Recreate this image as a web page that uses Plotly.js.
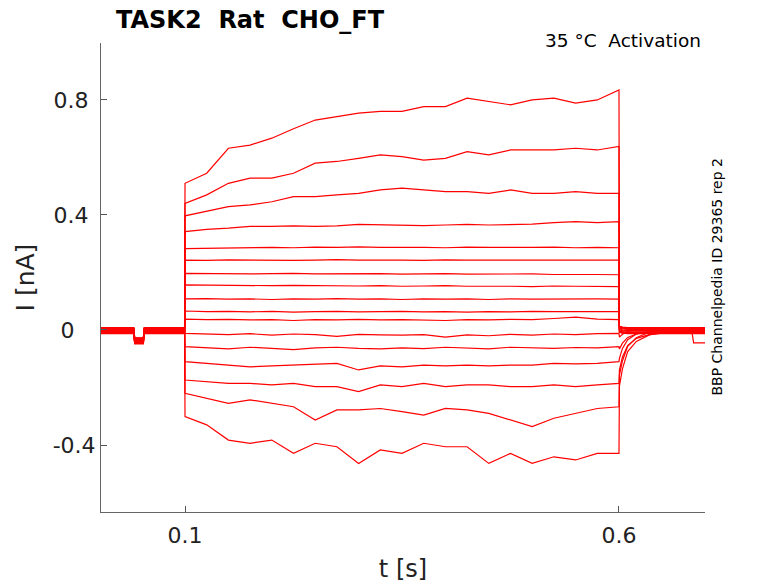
<!DOCTYPE html>
<html>
<head>
<meta charset="utf-8">
<script src="https://cdn.plot.ly/plotly-3.0.1.min.js"></script>
<style>html,body{margin:0;padding:0;background:#fff;}#chart{width:778px;height:583px;}</style>
</head>
<body>
<div id="chart"></div>
<script>
// time grids (s)
const tPre = [0.003, 0.02, 0.041, 0.042, 0.052, 0.053, 0.075, 0.0995];
const basePre = [0, 0, 0, -0.035, -0.035, 0, 0, 0];
const tStep = [0.1, 0.125, 0.15, 0.175, 0.2, 0.225, 0.25, 0.275, 0.3, 0.325, 0.35,
               0.375, 0.4, 0.425, 0.45, 0.475, 0.5, 0.525, 0.55, 0.575, 0.6];
const tPost = [0.6005, 0.604, 0.61, 0.62, 0.635, 0.65, 0.684, 0.686, 0.7];

// current during the step (nA), one array per sweep, top to bottom
const sweep01 = [0.51, 0.545, 0.632, 0.643, 0.667, 0.70, 0.73, 0.742, 0.754, 0.76, 0.76,
                 0.777, 0.777, 0.806, 0.795, 0.783, 0.80, 0.806, 0.789, 0.80, 0.835];
const sweep02 = [0.44, 0.47, 0.51, 0.528, 0.528, 0.545, 0.58, 0.586, 0.597, 0.609, 0.603,
                 0.591, 0.597, 0.62, 0.609, 0.626, 0.626, 0.626, 0.632, 0.626, 0.638];
const sweep03 = [0.397, 0.412, 0.429, 0.435, 0.446, 0.464, 0.464, 0.47, 0.475, 0.487, 0.493,
                 0.487, 0.481, 0.481, 0.475, 0.487, 0.475, 0.475, 0.481, 0.475, 0.475];
const sweep04 = [0.342, 0.35, 0.354, 0.36, 0.36, 0.362, 0.36, 0.362, 0.367, 0.365, 0.365,
                 0.363, 0.365, 0.367, 0.365, 0.367, 0.368, 0.373, 0.377, 0.373, 0.377];
const sweep05 = [0.283, 0.284, 0.286, 0.285, 0.287, 0.286, 0.288, 0.287, 0.289, 0.287, 0.288,
                 0.287, 0.286, 0.288, 0.287, 0.286, 0.287, 0.288, 0.286, 0.287, 0.286];
const sweep06 = [0.243, 0.242, 0.244, 0.243, 0.244, 0.242, 0.243, 0.245, 0.243, 0.244, 0.243,
                 0.242, 0.244, 0.243, 0.243, 0.244, 0.242, 0.243, 0.244, 0.243, 0.243];
const sweep07 = [0.197, 0.196, 0.197, 0.195, 0.196, 0.197, 0.195, 0.196, 0.195, 0.196, 0.194,
                 0.195, 0.196, 0.194, 0.195, 0.194, 0.195, 0.193, 0.194, 0.193, 0.192];
const sweep08 = [0.157, 0.156, 0.155, 0.156, 0.154, 0.155, 0.154, 0.155, 0.153, 0.154, 0.152,
                 0.153, 0.154, 0.152, 0.153, 0.152, 0.151, 0.153, 0.152, 0.151, 0.151];
const sweep09 = [0.108, 0.109, 0.107, 0.108, 0.106, 0.108, 0.107, 0.109, 0.107, 0.108, 0.106,
                 0.108, 0.107, 0.108, 0.106, 0.108, 0.107, 0.108, 0.107, 0.108, 0.107];
const sweep10 = [0.066, 0.064, 0.065, 0.063, 0.065, 0.062, 0.064, 0.065, 0.063, 0.064, 0.065,
                 0.063, 0.064, 0.062, 0.064, 0.063, 0.065, 0.064, 0.063, 0.064, 0.064];
const sweep11 = [0.038, 0.036, 0.037, 0.035, 0.036, 0.033, 0.036, 0.035, 0.037, 0.035, 0.036,
                 0.034, 0.033, 0.036, 0.035, 0.037, 0.036, 0.040, 0.045, 0.038, 0.036];
const sweep12 = [-0.012, -0.015, -0.016, -0.013, -0.018, -0.014, -0.016, -0.022, -0.015, -0.017, -0.018,
                 -0.016, -0.025, -0.017, -0.020, -0.015, -0.018, -0.014, -0.016, -0.013, -0.012];
const sweep13 = [-0.058, -0.063, -0.066, -0.060, -0.064, -0.068, -0.062, -0.060, -0.064, -0.066, -0.062,
                 -0.065, -0.060, -0.064, -0.066, -0.060, -0.063, -0.064, -0.061, -0.062, -0.058];
const sweep14 = [-0.110, -0.116, -0.122, -0.128, -0.125, -0.122, -0.118, -0.116, -0.139, -0.125, -0.128,
                 -0.122, -0.125, -0.122, -0.125, -0.122, -0.122, -0.116, -0.118, -0.116, -0.110];
const sweep15 = [-0.174, -0.180, -0.186, -0.186, -0.191, -0.186, -0.197, -0.197, -0.214, -0.191, -0.197,
                 -0.186, -0.197, -0.191, -0.191, -0.197, -0.197, -0.191, -0.197, -0.191, -0.186];
const sweep16 = [-0.220, -0.238, -0.255, -0.243, -0.255, -0.267, -0.313, -0.278, -0.278, -0.273, -0.284,
                 -0.296, -0.273, -0.278, -0.290, -0.313, -0.336, -0.307, -0.290, -0.273, -0.267];
const sweep17 = [-0.301, -0.330, -0.383, -0.394, -0.383, -0.429, -0.394, -0.406, -0.464, -0.417, -0.429,
                 -0.394, -0.406, -0.406, -0.464, -0.429, -0.464, -0.441, -0.452, -0.429, -0.429];

// tail after the step (nA)
const tailPos = [0.005, 0.002, 0, 0, 0, 0, 0, 0, 0];
const tail12 = [-0.03, -0.02, -0.01, -0.004, 0, 0, 0, 0, 0];
const tail13 = [-0.06, -0.04, -0.02, -0.008, -0.002, 0, 0, 0, 0];
const tail14 = [-0.10, -0.065, -0.035, -0.015, -0.005, 0, 0, 0, 0];
const tail15 = [-0.13, -0.085, -0.045, -0.02, -0.007, -0.002, 0, 0, 0];
const tail16 = [-0.16, -0.11, -0.06, -0.03, -0.01, -0.003, 0, 0, 0];
const tail17 = [-0.19, -0.13, -0.07, -0.035, -0.012, -0.004, 0, -0.04, -0.04];

// holding-current offset of each sweep (nA)
const baseOff = [0.008, -0.012, 0.004, -0.008, 0.006, -0.004, 0.002, -0.010, 0.007,
                 -0.002, -0.013, 0.005, -0.006, 0.001, -0.009, 0.003, -0.005];

const sweeps = [sweep01, sweep02, sweep03, sweep04, sweep05, sweep06, sweep07, sweep08, sweep09,
                sweep10, sweep11, sweep12, sweep13, sweep14, sweep15, sweep16, sweep17];
const tails = [tailPos, tailPos, tailPos, tailPos, tailPos, tailPos, tailPos, tailPos, tailPos,
               tailPos, tailPos, tail12, tail13, tail14, tail15, tail16, tail17];

const xTicks = [0.1, 0.6];
const xTickText = ['0.1', '0.6'];
const yTicks = [-0.4, 0, 0.4, 0.8];
const yTickText = ['-0.4', '0\u00A0\u00A0\u00A0', '0.4\u00A0', '0.8\u00A0'];

const traces = sweeps.map((s, k) => ({
  type: 'scatter', mode: 'lines',
  x: tPre.concat(tStep, tPost),
  y: basePre.map(v => v + baseOff[k]).concat(s, tails[k].map(v => v + baseOff[k])),
  line: {color: '#ff0000', width: 1.2},
  hoverinfo: 'skip', showlegend: false
}));

const font = 'DejaVu Sans, sans-serif';
const layout = {
  width: 778, height: 583,
  margin: {l: 101, r: 73, t: 43, b: 71},
  paper_bgcolor: '#fff', plot_bgcolor: '#fff',
  font: {family: font, color: '#222'},
  showlegend: false,
  xaxis: {
    range: [0.0032, 0.6991], tickvals: xTicks, ticktext: xTickText,
    ticks: 'inside', ticklen: 6, tickcolor: '#555', tickwidth: 1,
    showline: true, linecolor: '#666', linewidth: 1, mirror: false,
    showgrid: false, zeroline: false, ticklabelstandoff: 4,
    tickfont: {size: 22, family: font, color: '#222'},
    title: {text: 't [s]', font: {size: 24, family: font, color: '#222'}, standoff: 14}
  },
  yaxis: {
    range: [-0.633, 0.998], tickvals: yTicks, ticktext: yTickText,
    ticks: 'inside', ticklen: 6, tickcolor: '#555', tickwidth: 1,
    showline: true, linecolor: '#666', linewidth: 1, mirror: false,
    showgrid: false, zeroline: false, ticklabelstandoff: 0,
    tickfont: {size: 22, family: font, color: '#222'},
    title: {text: 'I [nA]', font: {size: 25, family: font, color: '#222'}, standoff: 10}
  },
  annotations: [
    {text: '<b>TASK2  Rat  CHO_FT</b>', xref: 'paper', yref: 'paper', x: 0.021, y: 1.0,
     xanchor: 'left', yanchor: 'bottom', yshift: 7, showarrow: false,
     font: {size: 24, family: font, color: '#000'}},
    {text: '35 °C  Activation', xref: 'paper', yref: 'paper', x: 0.997, y: 1.0,
     xanchor: 'right', yanchor: 'top', yshift: 15, showarrow: false,
     font: {size: 18.5, family: font, color: '#000'}},
    {text: 'BBP Channelpedia ID 29365 rep 2', xref: 'paper', yref: 'paper', x: 1.0, y: 0.502,
     xanchor: 'left', yanchor: 'middle', xshift: 2, textangle: -90, showarrow: false,
     font: {size: 14, family: font, color: '#000'}}
  ]
};

Plotly.newPlot('chart', traces, layout, {staticPlot: true, displayModeBar: false});
</script>
</body>
</html>
